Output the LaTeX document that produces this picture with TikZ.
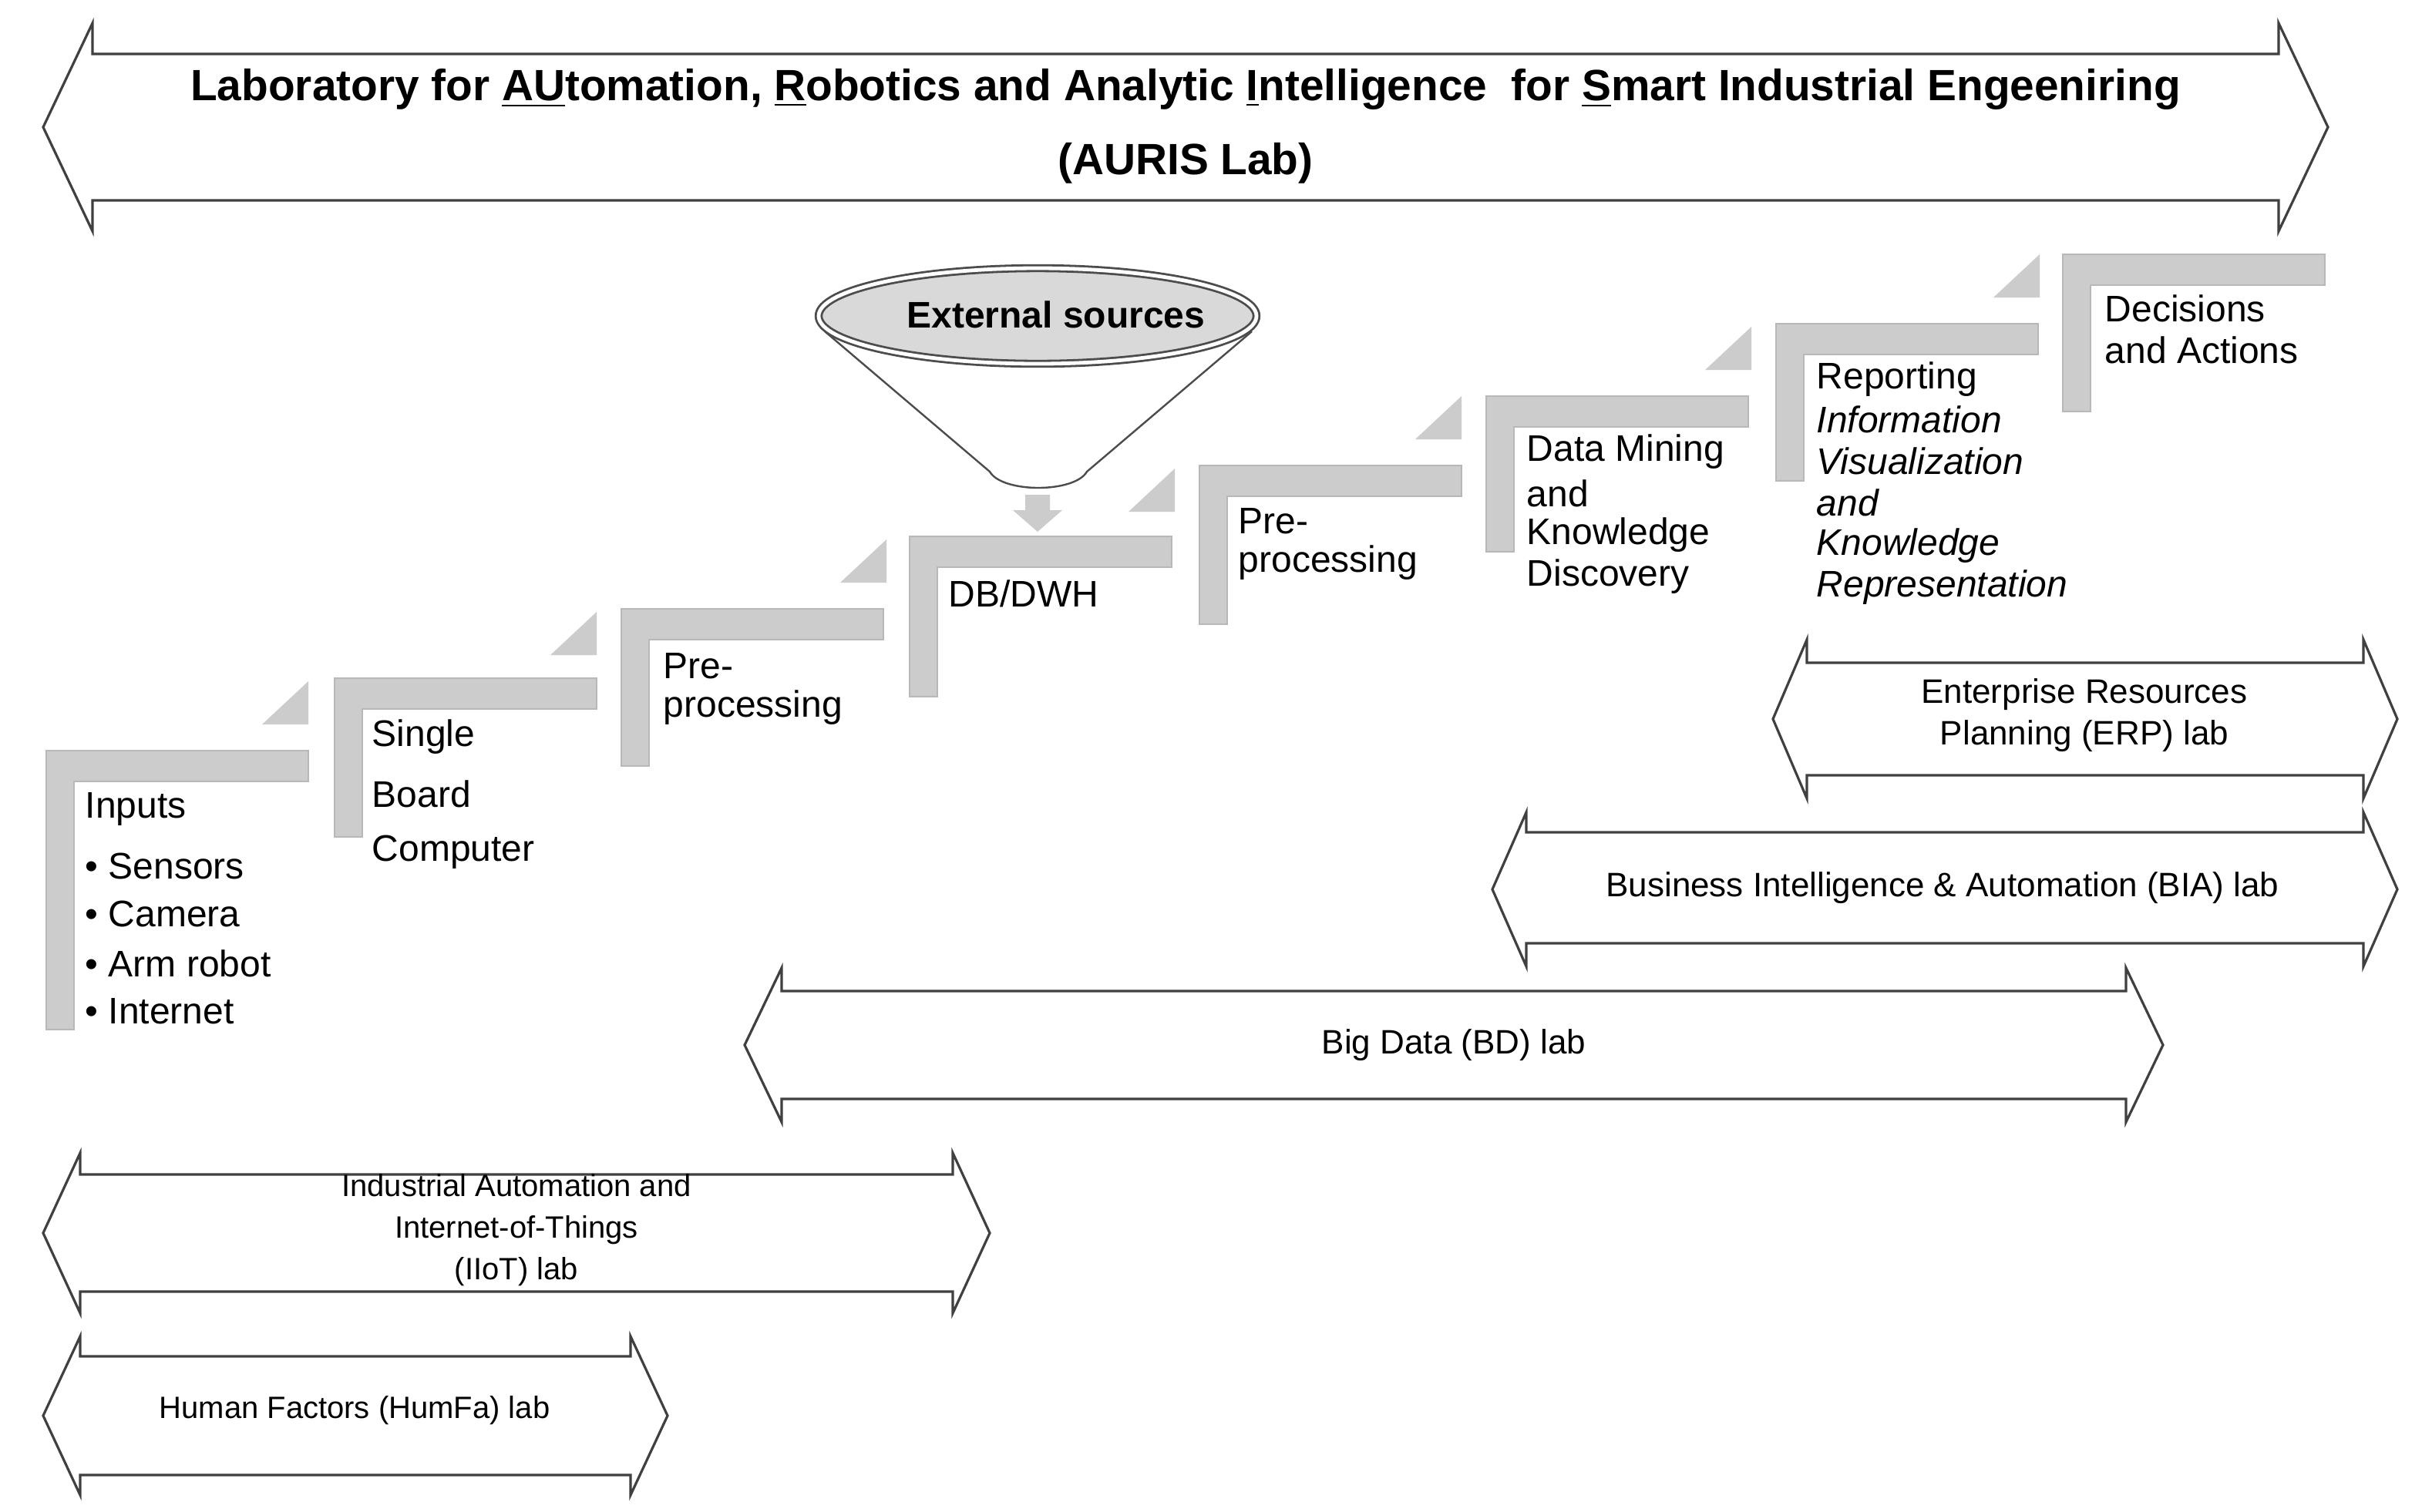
\documentclass[tikz,border=0pt]{standalone}
\usepackage{fontspec}
\setmainfont{Liberation Sans}
\usetikzlibrary{shapes.geometric}
\begin{document}
\begin{tikzpicture}[x=0.5pt,y=-0.5pt,
  lab/.style={draw=black!75,line width=0.8pt,fill=white},
  stepbar/.style={fill=black!20,draw=black!28,line width=0.6pt},
  tri/.style={fill=black!20,draw=none},
  st/.style={anchor=west,font=\fontsize{12}{14}\selectfont,inner sep=0pt},
  labtxt/.style={align=center,font=\fontsize{11}{13.5}\selectfont,inner sep=0pt},
  smalltxt/.style={align=center,font=\fontsize{10}{13.5}\selectfont,inner sep=0pt}]
\useasboundingbox (0,0) rectangle (1571,981);
\fill[white] (0,0) rectangle (1571,981);
% double arrow: x1 x2 ytop ybot shafttop shaftbot head
\newcommand\dblarr[7]{%
  \draw[lab] (#1,{(#3+#4)/2}) -- (#1+#7,#3) -- (#1+#7,#5) -- (#2-#7,#5) -- (#2-#7,#3)
    -- (#2,{(#3+#4)/2}) -- (#2-#7,#4) -- (#2-#7,#6) -- (#1+#7,#6) -- (#1+#7,#4) -- cycle;}
\dblarr{28}{1510}{15}{150}{35}{130}{32}
\node[align=center,font=\bfseries\fontsize{14.2}{24}\selectfont] (title) at (769,82)
  {Laboratory for \underline{AU}tomation, \underline{R}obotics and Analytic \underline{I}ntelligence\ \ for \underline{S}mart Industrial Engeeniring\\(AURIS Lab)};
\dblarr{1150}{1555}{415}{518}{430}{503}{22}
\node[labtxt] (erp) at (1352,464) {Enterprise Resources\\Planning (ERP) lab};
\dblarr{968}{1555}{527}{627}{540}{612}{22}
\node[labtxt] (bia) at (1260,576) {Business Intelligence \& Automation (BIA) lab};
\dblarr{483}{1403}{628}{728}{643}{713}{24}
\node[labtxt] (bd) at (943,678) {Big Data (BD) lab};
\dblarr{28}{642}{748}{852}{762}{838}{24}
\node[smalltxt] (iiot) at (335,798) {Industrial Automation and\\Internet-of-Things\\(IIoT) lab};
\dblarr{28}{433}{867}{970}{880}{957}{24}
\node[smalltxt] (humfa) at (230,915) {Human Factors (HumFa) lab};
% steps
\newcommand\stepL[3]{% x, ytop, ybottom
  \draw[stepbar] (#1,#2) -- (#1+170,#2) -- (#1+170,#2+20) -- (#1+18,#2+20) -- (#1+18,#3) -- (#1,#3) -- cycle;}
\newcommand\stepT[2]{% right x, bottom y
  \fill[tri] (#1-30,#2) -- (#1,#2-28) -- (#1,#2) -- cycle;}
\stepL{30}{487}{668}\stepT{200}{470}
\stepL{217}{440}{543}\stepT{387}{425}
\stepL{403}{395}{497}\stepT{575}{378}
\stepL{590}{348}{452}\stepT{762}{332}
\stepL{778}{302}{405}\stepT{948}{285}
\stepL{964}{257}{358}\stepT{1136}{240}
\stepL{1152}{210}{312}\stepT{1323}{193}
\stepL{1338}{165}{267}
% funnel
\draw[black!70,line width=0.6pt,fill=white] (535,215) -- (642,306) .. controls (650,320) and (697,320) .. (705,306) -- (812,215);
\node[ellipse,draw=black!70,double=white,double distance=1.2pt,fill=black!15,line width=0.7pt,
  minimum width=142pt,minimum height=31pt,inner sep=0pt] (ext) at (673,205) {};
\node[font=\bfseries\fontsize{12}{14}\selectfont] (extt) at (685,204) {External sources};
\fill[black!20] (665,321) -- (681,321) -- (681,331) -- (689,331) -- (673,345) -- (657,331) -- (665,331) -- cycle;
% step texts
\node[st] (t1) at (55,525) {Inputs};
\node[st] (t1a) at (55,562) {\textbullet\ Sensors};
\node[st] (t1b) at (55,593) {\textbullet\ Camera};
\node[st] (t1c) at (55,625) {\textbullet\ Arm robot};
\node[st] (t1d) at (55,656) {\textbullet\ Internet};
\node[st] (t2a) at (241,478) {Single};
\node[st] (t2b) at (241,515) {Board};
\node[st] (t2c) at (241,553) {Computer};
\node[st] (t3a) at (430,432) {Pre-};
\node[st] (t3b) at (430,459) {processing};
\node[st] (t4) at (615,385) {DB/DWH};
\node[st] (t5a) at (803,338) {Pre-};
\node[st] (t5b) at (803,365) {processing};
\node[st] (t6a) at (990,293) {Data Mining};
\node[st] (t6b) at (990,320) {and};
\node[st] (t6c) at (990,347) {Knowledge};
\node[st] (t6d) at (990,374) {Discovery};
\node[st] (t7a) at (1178,246) {Reporting};
\node[st] (t7b) at (1178,272) {\itshape Information};
\node[st] (t7c) at (1178,299) {\itshape Visualization};
\node[st] (t7d) at (1178,326) {\itshape and};
\node[st] (t7e) at (1178,354) {\itshape Knowledge};
\node[st] (t7f) at (1178,381) {\itshape Representation};
\node[st] (t8a) at (1365,200) {Decisions};
\node[st] (t8b) at (1365,227) {and Actions};
\end{tikzpicture}
\end{document}
